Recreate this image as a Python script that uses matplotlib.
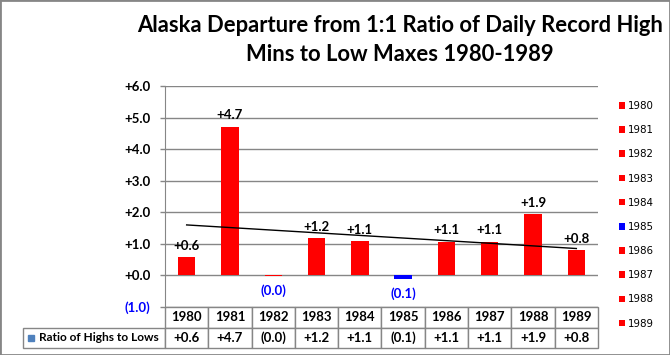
import numpy as np
import matplotlib
matplotlib.use('Agg')
import matplotlib.pyplot as plt
from matplotlib.patches import Patch, Rectangle
from matplotlib.table import Table

# data
years = [1980, 1981, 1982, 1983, 1984, 1985, 1986, 1987, 1988, 1989]
ratio = [0.58, 4.71, -0.02, 1.18, 1.08, -0.12, 1.07, 1.06, 1.93, 0.79]
bar_colors = ['#FF0000'] * 5 + ['#0000FF'] + ['#FF0000'] * 4
series_name = 'Ratio of Highs to Lows'
title_lines = ['Alaska Departure from 1:1 Ratio of Daily Record High',
               'Mins to Low Maxes 1980-1989']
yticks = [-1, 0, 1, 2, 3, 4, 5, 6]

W, H = 670, 355
gray = '#868686'
neg_blue = '#0000FF'
bold_font = 'Lato'


def fmt(v):
    if v < 0:
        return '({:.1f})'.format(abs(v))
    return '+{:.1f}'.format(v)


fig = plt.figure(figsize=(W / 100, H / 100), dpi=100)
ax = fig.add_axes([165 / W, 1 - 307 / H, 433 / W, 221 / H])

x = np.arange(len(years))
ax.bar(x, ratio, width=0.4, color=bar_colors, zorder=3)

# linear trendline
coef = np.polyfit(x, ratio, 1)
ends = x[[0, -1]]
ax.plot(ends, np.polyval(coef, ends), color='black', lw=1, zorder=4)

# data labels
for xi, v in zip(x, ratio):
    if v >= 0:
        ax.annotate(fmt(v), (xi, v), xytext=(0, 4), textcoords='offset points',
                    ha='center', va='bottom', fontsize=9.5, fontweight='bold',
                    family=bold_font, zorder=5)
    else:
        ax.annotate(fmt(v), (xi, v), xytext=(0, -6), textcoords='offset points',
                    ha='center', va='top', fontsize=9.5, fontweight='bold',
                    family=bold_font, color=neg_blue, zorder=5)

ax.set_xlim(-0.5, len(years) - 0.5)
ax.set_ylim(-1, 6)
ax.set_xticks([])
ax.set_yticks(yticks)
labels = ax.set_yticklabels([fmt(v) for v in yticks], fontsize=9.5,
                            fontweight='bold', family=bold_font)
for lab, v in zip(labels, yticks):
    if v < 0:
        lab.set_color(neg_blue)
ax.tick_params(axis='y', direction='out', length=3.6, color=gray, width=1, pad=7)
ax.yaxis.grid(True, color=gray, lw=1)
ax.set_axisbelow(True)
for s in ['top', 'right', 'bottom']:
    ax.spines[s].set_visible(False)
ax.spines['left'].set_color(gray)

# data table below the plot (bbox covers the year columns only)
row_h = 20.5 / 221
lab_w = (165 - 23) / 433
tbl = Table(ax, bbox=[0, -2 * row_h, 1, 2 * row_h])
for j, (yr, v) in enumerate(zip(years, ratio)):
    tbl.add_cell(0, j, width=0.1, height=row_h, text=str(yr), loc='center')
    tbl.add_cell(1, j, width=0.1, height=row_h, text=fmt(v), loc='center')
lab_cell = tbl.add_cell(1, -1, width=lab_w, height=row_h, text=series_name, loc='left')
lab_cell.PAD = 0.113
tbl.auto_set_font_size(False)
tbl.set_fontsize(9.5)
for cell in tbl.get_celld().values():
    cell.set_edgecolor(gray)
    cell.set_linewidth(1)
    cell.get_text().set_fontweight('bold')
    cell.get_text().set_family(bold_font)
lab_cell.get_text().set_fontsize(8.6)
ax.add_table(tbl)
ax.plot([(31 - 165) / 433], [-1.5 * row_h], marker='s', ms=4.5, color='#4F81BD',
        transform=ax.transAxes, clip_on=False)

# legend on the right
handles = [Patch(facecolor=c, edgecolor='none') for c in bar_colors]
fig.legend(handles, [str(y) for y in years], loc='upper left',
           bbox_to_anchor=(619 / W, 1 - 101 / H), frameon=False,
           prop={'family': 'DejaVu Sans', 'size': 7.4},
           handlelength=0.6, handleheight=0.6, handletextpad=0.3,
           labelspacing=1.38, borderpad=0, borderaxespad=0)

# title
fig.text(400 / W, 1 - 32 / H, title_lines[0], ha='center', va='baseline',
         fontsize=15.8, fontweight='bold', family=bold_font)
fig.text(400 / W, 1 - 61 / H, title_lines[1], ha='center', va='baseline',
         fontsize=15.8, fontweight='bold', family=bold_font)

# chart border
fig.patches.append(Rectangle((0, 0), 1, 1, transform=fig.transFigure,
                             fill=False, edgecolor=gray, lw=2))

fig.savefig('out.png', dpi=100)
